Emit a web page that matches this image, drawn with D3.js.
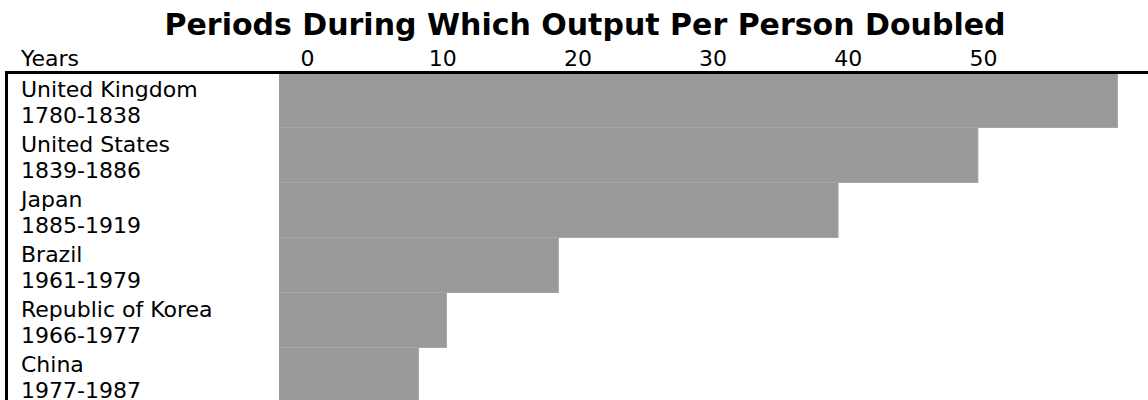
<!DOCTYPE html>
<html>
<head>
<meta charset="utf-8">
<script src="https://cdn.jsdelivr.net/npm/d3@7"></script>
<style>
  html, body { margin: 0; padding: 0; background: #fff; }
  svg { display: block; font-family: Verdana, "DejaVu Sans", sans-serif; }
</style>
</head>
<body>
<svg id="chart" width="1148" height="400"></svg>
<script>
// Countries, the period in which each doubled output per person, and bar lengths in years
const countries = ["United Kingdom", "United States", "Japan", "Brazil", "Republic of Korea", "China"];
const periods = ["1780-1838", "1839-1886", "1885-1919", "1961-1979", "1966-1977", "1977-1987"];
const years = [60, 50, 40, 20, 12, 10];
const tickValues = [0, 10, 20, 30, 40, 50];

const rows = countries.map((c, i) => ({ country: c, period: periods[i], value: years[i] }));

const svg = d3.select("#chart");
const W = 1148, H = 400;
const labelSize = "22px";

// Bar scale, and the header scale used for the year labels above the table
const x = d3.scaleLinear().domain([0, 60]).range([279, 1118]);
const xHead = d3.scaleLinear().domain([0, 50]).range([307, 983]);
const y = d3.scaleBand().domain(countries).range([73, 403]).padding(0);

// Title
svg.append("text")
  .attr("x", 585)
  .attr("y", 35)
  .attr("text-anchor", "middle")
  .style("font-weight", "bold")
  .style("font-size", "30px")
  .text("Periods During Which Output Per Person Doubled");

// Header row
svg.append("text")
  .attr("x", 21)
  .attr("y", 66)
  .style("font-size", labelSize)
  .text("Years");

const axis = d3.axisTop(xHead).tickValues(tickValues).tickSize(0).tickPadding(0).tickFormat(d3.format("d"));
const gAxis = svg.append("g").attr("transform", "translate(0,66)").call(axis);
gAxis.select(".domain").remove();
gAxis.selectAll("text")
  .attr("dy", null)
  .attr("y", 0)
  .style("font-size", labelSize)
  .style("font-family", "Verdana, 'DejaVu Sans', sans-serif")
  .attr("fill", "#000");

// Bars, with a slightly lighter edge on the right and bottom
const bars = svg.append("g").selectAll("g")
  .data(rows)
  .join("g");
bars.append("rect")
  .attr("x", x(0))
  .attr("y", d => y(d.country))
  .attr("width", d => x(d.value) - x(0))
  .attr("height", y.bandwidth())
  .attr("fill", "#999999");
bars.append("path")
  .attr("d", d => `M${x(d.value) - 0.5},${y(d.country)}V${y(d.country) + y.bandwidth() - 0.5}H${x(0)}`)
  .attr("fill", "none")
  .attr("stroke", "#a6a6a6")
  .attr("stroke-width", 1);

// Row labels: country and period on two lines
const labels = svg.append("g").selectAll("text")
  .data(rows)
  .join("text")
  .attr("x", 21)
  .attr("y", d => y(d.country) + 23.5)
  .style("font-size", labelSize);
labels.append("tspan").attr("x", 21).text(d => d.country);
labels.append("tspan").attr("x", 21).attr("dy", 26.5).text(d => d.period);

// Frame: top rule and left rule
svg.append("line")
  .attr("x1", 5).attr("x2", W)
  .attr("y1", 72.5).attr("y2", 72.5)
  .attr("stroke", "#000").attr("stroke-width", 3);
svg.append("line")
  .attr("x1", 6.5).attr("x2", 6.5)
  .attr("y1", 71).attr("y2", H)
  .attr("stroke", "#000").attr("stroke-width", 3);
</script>
</body>
</html>
